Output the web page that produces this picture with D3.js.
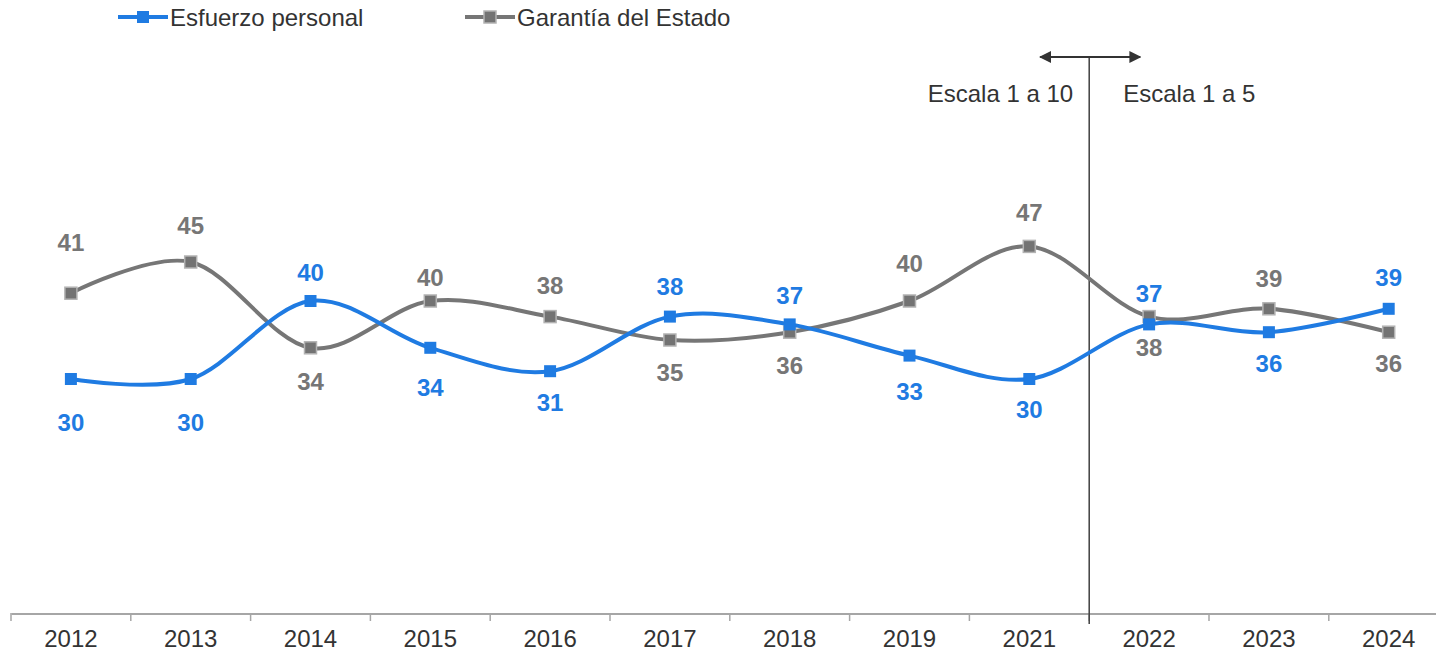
<!DOCTYPE html>
<html>
<head>
<meta charset="utf-8">
<script src="https://cdn.jsdelivr.net/npm/d3@7"></script>
<style>
  body { margin: 0; background: #fff; }
  svg { display: block; font-family: "Liberation Sans", Arial, sans-serif; }
</style>
</head>
<body>
<div id="chart"></div>
<script>
// data
const years = ['2012', '2013', '2014', '2015', '2016', '2017', '2018', '2019', '2021', '2022', '2023', '2024'];
const esfuerzo = [30, 30, 40, 34, 31, 38, 37, 33, 30, 37, 36, 39];
const garantia = [41, 45, 34, 40, 38, 35, 36, 40, 47, 38, 39, 36];
const seriesNames = ['Esfuerzo personal', 'Garantía del Estado'];
const scaleNotes = ['Escala 1 a 10', 'Escala 1 a 5'];

// label placement (px from point, + is below)
const esfuerzoLabelDy = [43, 43, -29, 40, 31, -30, -29, 36, 30, -31, 31, -31];
const garantiaLabelDy = [-51, -37, 34, -24, -31, 32, 33, -38, -34, 31, -30, 31];

const W = 1436, H = 653;
const blue = '#1f7be2', gray = '#767676';
const fs = 24;

const svg = d3.select('#chart').append('svg')
    .attr('width', W)
    .attr('height', H);

const x = d3.scaleBand()
    .domain(years)
    .range([11, 11 + 12 * 119.8]);

const y = d3.scaleLinear()
    .domain([0, 70])
    .range([613, 67]);

// x axis
const axis = svg.append('g')
    .attr('transform', 'translate(0,613.5)')
    .call(d3.axisBottom(x).tickSize(0).tickPadding(16));
axis.select('.domain').attr('stroke', '#a6a6a6').attr('stroke-width', 2);
axis.selectAll('text')
    .attr('fill', '#333')
    .attr('font-size', fs)
    .attr('font-family', '"Liberation Sans", Arial, sans-serif');

// tick marks at band boundaries
svg.append('g')
  .selectAll('line')
  .data(years)
  .join('line')
    .attr('x1', d => x(d))
    .attr('x2', d => x(d))
    .attr('y1', 613)
    .attr('y2', 621)
    .attr('stroke', '#a6a6a6')
    .attr('stroke-width', 1.5);

// divider between 2021 and 2022
const divX = x('2022');
svg.append('line')
    .attr('x1', divX).attr('x2', divX)
    .attr('y1', 57).attr('y2', 624)
    .attr('stroke', '#404040')
    .attr('stroke-width', 1.5);

svg.append('defs').append('marker')
    .attr('id', 'head')
    .attr('viewBox', '0 0 10 10')
    .attr('refX', 9).attr('refY', 5)
    .attr('markerWidth', 6).attr('markerHeight', 6)
    .attr('orient', 'auto-start-reverse')
  .append('path')
    .attr('d', 'M0,0L10,5L0,10Z')
    .attr('fill', '#333');

svg.append('line')
    .attr('x1', divX - 49).attr('x2', divX + 51)
    .attr('y1', 57).attr('y2', 57)
    .attr('stroke', '#333')
    .attr('stroke-width', 2)
    .attr('marker-start', 'url(#head)')
    .attr('marker-end', 'url(#head)');

svg.append('text')
    .attr('x', divX - 16).attr('y', 102)
    .attr('text-anchor', 'end')
    .attr('font-size', fs).attr('fill', '#333')
    .text(scaleNotes[0]);
svg.append('text')
    .attr('x', divX + 34).attr('y', 102)
    .attr('font-size', fs).attr('fill', '#333')
    .text(scaleNotes[1]);

const cx = d => x(d) + x.bandwidth() / 2;
const line = d3.line()
    .x((d, i) => cx(years[i]))
    .y(d => y(d))
    .curve(d3.curveCardinal.tension(0));

function drawSeries(values, color, markerFill, markerStroke, dy) {
    const g = svg.append('g');
    g.append('path')
        .datum(values)
        .attr('d', line)
        .attr('fill', 'none')
        .attr('stroke', color)
        .attr('stroke-width', 4);
    g.selectAll('rect')
      .data(values)
      .join('rect')
        .attr('x', (d, i) => cx(years[i]) - 6)
        .attr('y', d => y(d) - 6)
        .attr('width', 12)
        .attr('height', 12)
        .attr('fill', markerFill)
        .attr('stroke', markerStroke)
        .attr('stroke-width', markerStroke ? 1.5 : 0);
    g.selectAll('text')
      .data(values)
      .join('text')
        .attr('x', (d, i) => cx(years[i]))
        .attr('y', (d, i) => y(d) + dy[i] + 8.5)
        .attr('text-anchor', 'middle')
        .attr('font-size', fs)
        .attr('font-weight', 'bold')
        .attr('fill', color)
        .text(d => d);
}

drawSeries(garantia, gray, '#737373', '#b3b3b3', garantiaLabelDy);
drawSeries(esfuerzo, blue, blue, null, esfuerzoLabelDy);

// legend
const legend = [
    {name: seriesNames[0], color: blue, fill: blue, stroke: null, x: 118},
    {name: seriesNames[1], color: gray, fill: '#737373', stroke: '#b3b3b3', x: 465}
];
const lg = svg.append('g').selectAll('g')
    .data(legend)
    .join('g')
    .attr('transform', d => `translate(${d.x},17)`);
lg.append('line')
    .attr('x1', 0).attr('x2', 50)
    .attr('stroke', d => d.color)
    .attr('stroke-width', 4);
lg.append('rect')
    .attr('x', 19).attr('y', -6)
    .attr('width', 12).attr('height', 12)
    .attr('fill', d => d.fill)
    .attr('stroke', d => d.stroke)
    .attr('stroke-width', d => d.stroke ? 1.5 : 0);
lg.append('text')
    .attr('x', 52).attr('y', 8.5)
    .attr('font-size', fs)
    .attr('fill', '#333')
    .text(d => d.name);
</script>
</body>
</html>
